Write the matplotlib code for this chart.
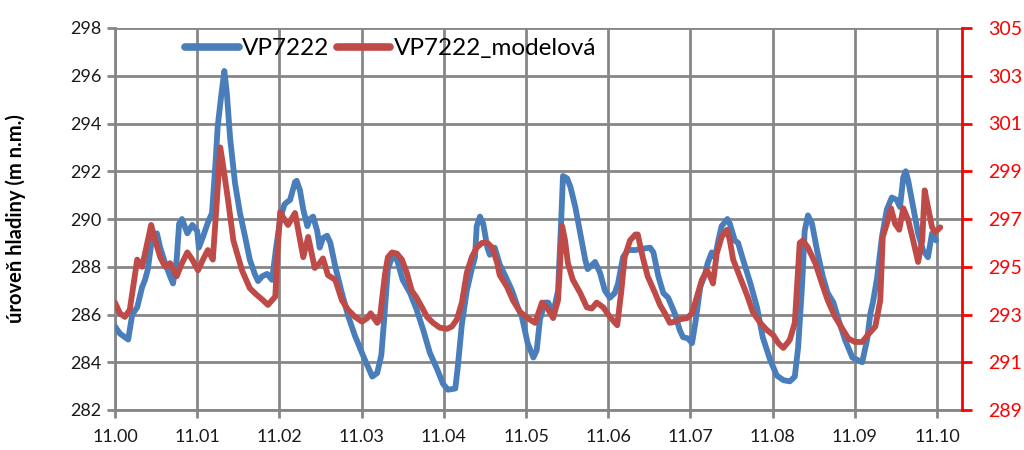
import matplotlib
matplotlib.use("Agg")
import matplotlib.pyplot as plt

plt.rcParams['font.family'] = ['Lato', 'DejaVu Sans']

# time offsets in thousandths after 11.00
blue_t = [0.0, 0.6, 1.6, 2.1, 2.7, 3.3, 3.65, 4.0, 4.5, 5.1, 5.5, 6.1, 6.7, 7.06, 7.5, 7.8, 8.15,
          8.8, 9.4, 10.0, 10.2, 10.7, 11.3, 11.8, 12.2, 12.5, 12.9, 13.3, 13.6, 14.0, 14.6, 15.2,
          15.8, 16.4, 17.0, 17.4, 17.9, 18.5, 19.1, 19.6, 20.1, 20.6, 20.9, 21.3, 21.9, 22.1, 22.5,
          22.9, 23.4, 23.7, 24.1, 24.6, 24.9, 25.3, 25.8, 26.2, 26.8, 27.6, 28.4, 29.2, 30.4, 31.3,
          31.9, 32.4, 32.7, 33.2, 33.7, 34.3, 35.0, 35.9, 36.7, 37.5, 38.3, 39.2, 39.9, 40.5, 41.4,
          41.7, 42.2, 42.8, 43.4, 43.8, 44.0, 44.4, 44.8, 45.3, 45.6, 46.2, 46.8, 47.5, 48.3, 49.0,
          49.5, 50.2, 50.9, 51.3, 51.7, 52.3, 52.7, 53.3, 53.9, 54.3, 54.5, 55.0, 55.4, 56.0, 56.6,
          57.2, 57.5, 58.4, 59.0, 59.6, 60.2, 60.8, 61.2, 61.8, 62.4, 63.3, 64.1, 65.1, 65.5, 66.1,
          66.7, 67.3, 68.1, 68.7, 69.1, 69.7, 70.2, 70.6, 71.2, 71.8, 72.1, 72.6, 73.0, 73.4, 73.8,
          74.5, 74.8, 75.4, 75.8, 76.4, 77.3, 78.1, 78.8, 79.7, 80.5, 81.3, 82.1, 82.7, 83.1, 83.6,
          83.9, 84.3, 84.8, 85.4, 86.1, 86.7, 87.4, 88.0, 88.8, 89.7, 90.3, 90.9, 91.5, 91.9, 92.2,
          92.7, 93.3, 93.9, 94.5, 95.1, 95.5, 95.9, 96.2, 96.5, 97.1, 97.7, 98.3, 98.9, 99.4, 99.9]
blue_v = [285.5, 285.2, 284.95, 286.0, 286.3, 287.15, 287.45, 287.9, 289.2, 289.4, 288.8, 288.15,
          287.6, 287.3, 288.3, 289.8, 290.0, 289.4, 289.75, 289.5, 288.8, 289.25, 289.85, 290.25,
          292.2, 293.9, 295.1, 296.2, 295.3, 293.4, 291.5, 290.25, 289.3, 288.3, 287.7, 287.4,
          287.6, 287.7, 287.45, 288.8, 290.0, 290.6, 290.7, 290.8, 291.55, 291.6, 291.2, 290.4,
          289.7, 290.0, 290.1, 289.5, 288.8, 289.2, 289.3, 289.0, 288.0, 286.9, 285.9, 285.1,
          284.1, 283.4, 283.55, 284.3, 285.6, 287.9, 288.4, 288.3, 287.45, 286.9, 286.2, 285.35,
          284.4, 283.7, 283.1, 282.85, 282.9, 283.8, 285.6, 287.0, 287.9, 288.4, 289.7, 290.1,
          289.8, 288.8, 288.5, 288.8, 288.1, 287.6, 287.0, 286.3, 285.9, 284.8, 284.2, 284.5,
          285.8, 286.5, 286.5, 286.05, 287.0, 290.1, 291.8, 291.7, 291.35, 290.5, 289.4, 288.3,
          287.9, 288.2, 287.75, 287.0, 286.7, 286.9, 287.3, 288.4, 288.7, 288.7, 288.75, 288.8,
          288.6, 287.6, 286.9, 286.7, 286.05, 285.35, 285.05, 285.0, 284.8, 285.65, 287.15, 287.7,
          288.15, 288.6, 288.4, 289.1, 289.7, 290.0, 289.8, 289.1, 289.0, 288.3, 287.3, 286.3,
          285.05, 284.1, 283.45, 283.25, 283.2, 283.4, 284.6, 287.3, 289.5, 290.15, 289.8, 288.7,
          287.6, 286.9, 286.5, 285.8, 284.95, 284.2, 284.1, 284.0, 284.95, 286.05, 286.5, 287.5,
          289.25, 290.4, 290.9, 290.8, 290.5, 291.75, 292.0, 291.6, 290.5, 289.4, 288.7, 288.4,
          289.4, 289.1]

red_t = [0.0, 0.6, 1.2, 1.8, 2.7, 3.3, 4.4, 4.9, 5.5, 6.1, 6.7, 7.5, 8.15, 8.8, 9.4, 10.1, 10.7,
         11.3, 11.9, 12.4, 12.8, 13.1, 13.75, 14.4, 15.45, 16.4, 17.15, 18.0, 18.6, 19.5, 19.8,
         20.1, 20.4, 21.05, 21.9, 22.3, 22.9, 23.5, 24.3, 24.9, 25.3, 25.9, 26.8, 27.6, 28.35,
         29.2, 30.05, 30.7, 31.1, 31.9, 32.2, 32.85, 33.2, 33.7, 34.3, 34.9, 35.5, 36.1, 36.7,
         37.35, 37.96, 38.7, 39.5, 40.4, 41.0, 41.6, 42.2, 42.8, 43.4, 44.0, 44.65, 45.3, 45.9,
         46.5, 46.8, 47.7, 48.4, 49.3, 50.2, 51.1, 51.95, 52.55, 53.3, 53.9, 54.4, 54.75, 55.1,
         55.7, 56.6, 57.4, 58.0, 58.6, 59.4, 60.2, 61.1, 61.6, 62.0, 62.65, 63.3, 63.6, 64.2,
         64.8, 65.7, 66.3, 66.9, 67.5, 68.1, 68.7, 69.6, 70.2, 70.8, 71.4, 72.0, 72.4, 72.75,
         73.2, 73.8, 74.45, 74.8, 75.2, 76.0, 76.9, 77.6, 78.5, 79.3, 80.05, 80.7, 81.3, 81.9,
         82.1, 82.7, 83.3, 83.7, 84.3, 85.2, 86.0, 86.7, 87.6, 88.4, 89.2, 90.0, 90.9, 91.6,
         92.5, 93.1, 93.4, 93.9, 94.4, 94.9, 95.4, 95.9, 96.5, 97.1, 97.7, 98.2, 98.5, 98.9,
         99.4, 99.8, 100.4]
red_v = [293.5, 293.05, 292.9, 293.2, 295.3, 295.0, 296.75, 296.1, 295.4, 295.0, 295.15, 294.6,
         295.15, 295.6, 295.3, 294.85, 295.3, 295.7, 295.3, 297.8, 300.0, 299.35, 297.8, 296.1,
         294.85, 294.1, 293.85, 293.6, 293.4, 293.75, 295.8, 297.3, 297.1, 296.75, 297.25, 296.5,
         295.4, 296.25, 294.95, 295.15, 295.35, 294.65, 294.45, 293.6, 293.2, 292.9, 292.7,
         292.85, 293.05, 292.65, 292.8, 294.7, 295.4, 295.6, 295.55, 295.3, 294.75, 294.0, 293.7,
         293.3, 292.9, 292.65, 292.45, 292.4, 292.5, 292.8, 293.5, 294.75, 295.4, 295.8, 296.0,
         296.0, 295.8, 295.15, 294.65, 294.15, 293.6, 293.1, 292.85, 292.65, 293.5, 293.3, 292.85,
         293.6, 296.7, 296.1, 295.15, 294.45, 293.9, 293.3, 293.25, 293.5, 293.3, 292.9, 292.55,
         294.0, 295.4, 296.1, 296.35, 296.35, 295.4, 294.6, 293.9, 293.4, 293.05, 292.65, 292.7,
         292.8, 292.85, 293.05, 293.75, 294.45, 294.85, 294.6, 294.3, 295.55, 296.25, 296.55,
         296.1, 295.3, 294.6, 293.8, 293.1, 292.65, 292.35, 292.15, 291.8, 291.6, 291.85, 291.95,
         292.65, 296.0, 296.1, 295.8, 295.15, 294.3, 293.6, 292.9, 292.45, 292.0, 291.85, 291.85,
         292.15, 292.5, 293.6, 296.25, 296.8, 297.45, 296.8, 296.55, 297.45, 296.95, 296.1,
         295.2, 296.1, 298.2, 297.5, 296.65, 296.45, 296.65]

blue_x = [11 + t / 1000 for t in blue_t]
red_x = [11 + t / 1000 for t in red_t]

x_ticks = [11.00, 11.01, 11.02, 11.03, 11.04, 11.05, 11.06, 11.07, 11.08, 11.09, 11.10]
left_ticks = [282, 284, 286, 288, 290, 292, 294, 296, 298]
right_ticks = [289, 291, 293, 295, 297, 299, 301, 303, 305]

BLUE = '#4A7EBB'
RED = '#BE4B48'
GRID = '#868686'

# plot area spans 115..962 px; x=11.10 sits at 937 px
left_px, right_px, x110_px = 115, 962, 937
fig = plt.figure(figsize=(10.24, 4.5), dpi=100)
ax = fig.add_axes([left_px/1024, 1 - 410/450, (right_px - left_px)/1024, 382/450])
ax2 = ax.twinx()

lb, = ax.plot(blue_x, blue_v, color=BLUE, lw=4.2, solid_joinstyle='round', solid_capstyle='round', zorder=3)
lr, = ax2.plot(red_x, red_v, color=RED, lw=4.2, solid_joinstyle='round', solid_capstyle='round', zorder=3)

xmax = 11.0 + 0.1 * (right_px - left_px) / (x110_px - left_px)
ax.set_xlim(11.0, xmax)
ax.set_ylim(282, 298)
ax2.set_ylim(289, 305)
ax.set_xticks(x_ticks)
ax.set_xticklabels(['%.2f' % v for v in x_ticks])
ax.set_yticks(left_ticks)
ax2.set_yticks(right_ticks)

ax.grid(True, color=GRID, lw=2.0)
ax.set_axisbelow(True)
for s in ['top', 'right']:
    ax.spines[s].set_visible(False)
for s in ['left', 'bottom']:
    ax.spines[s].set_color(GRID)
    ax.spines[s].set_linewidth(2.0)
ax.tick_params(axis='both', colors=GRID, width=2, length=6, labelsize=13, labelcolor='#1a1a1a')
ax.tick_params(axis='x', pad=8)

for s in ['top', 'left', 'bottom']:
    ax2.spines[s].set_visible(False)
ax2.spines['right'].set_color('#FF0000')
ax2.spines['right'].set_linewidth(2.0)
ax2.tick_params(axis='y', colors='#FF0000', width=2, length=7, pad=12, labelsize=14, labelcolor='#FF0000')

ax.set_ylabel('úroveň hladiny (m n.m.)', fontsize=14.5, fontweight='bold', labelpad=32)

leg = ax.legend([lb, lr], ['VP7222', 'VP7222_modelová'], loc='upper left',
                bbox_to_anchor=(0.057, 1.03), ncol=2, frameon=False, fontsize=17.5,
                handlelength=2.2, handletextpad=0.15, columnspacing=0.3)
for h in leg.get_lines():
    h.set_linewidth(5.5)

fig.savefig('out.png', dpi=100)
